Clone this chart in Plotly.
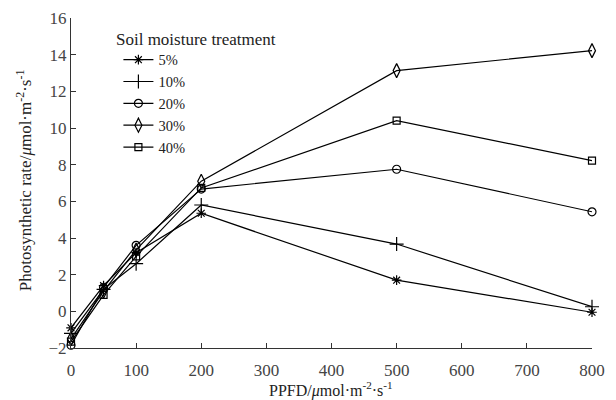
import plotly.graph_objects as go

ppfd = [0, 50, 100, 200, 500, 800]
treatments = ["5%", "10%", "20%", "30%", "40%"]
rate_5 = [-0.9, 1.4, 3.2, 5.35, 1.7, -0.05]
rate_10 = [-1.2, 1.2, 2.6, 5.8, 3.67, 0.25]
rate_20 = [-1.85, 1.3, 3.6, 6.67, 7.75, 5.43]
rate_30 = [-1.5, 1.1, 3.35, 7.1, 13.13, 14.22]
rate_40 = [-1.65, 0.9, 3.0, 6.73, 10.4, 8.22]
series = [rate_5, rate_10, rate_20, rate_30, rate_40]
symbols = ["asterisk-open", "cross-thin-open", "circle-open", "diamond-tall-open", "square-open"]
sizes = [8, 10, 8, 10, 7]

FONT = "Liberation Serif"
x_title = "PPFD/<i>μ</i>mol·m<sup>-2</sup>·s<sup>-1</sup>"
y_title = "Photosynthetic rate/<i>μ</i>mol·m<sup>-2</sup>·s<sup>-1</sup>"
legend_title = "Soil moisture treatment"

fig = go.Figure()
for name, ys, sym, sz in zip(treatments, series, symbols, sizes):
    fig.add_trace(go.Scatter(
        x=ppfd, y=ys, name=name, mode="lines+markers",
        line=dict(color="black", width=1.2),
        marker=dict(symbol=sym, size=sz, color="black",
                    line=dict(color="black", width=1.2)),
        cliponaxis=False,
    ))

tf = dict(family=FONT, size=17, color="#222")
fig.update_layout(
    width=616, height=400,
    margin=dict(l=71, r=24, t=18, b=52),
    paper_bgcolor="white", plot_bgcolor="white",
    font=tf,
    showlegend=True,
    legend=dict(x=0.091, y=0.922, xanchor="left", yanchor="top",
                bgcolor="rgba(0,0,0,0)", borderwidth=0,
                font=dict(family=FONT, size=14.5, color="#222"),
                tracegroupgap=0, itemwidth=30),
    annotations=[
        dict(text=legend_title, x=0.083, y=0.927, xref="paper", yref="paper",
             xanchor="left", yanchor="bottom", yshift=-9, showarrow=False, font=tf),
        dict(text=x_title, x=0.499, y=-0.126, xref="paper", yref="paper",
             xanchor="center", yanchor="middle", showarrow=False,
             font=dict(family=FONT, size=16, color="#222")),
        dict(text=y_title, x=-0.09, y=0.509, xref="paper", yref="paper",
             xanchor="center", yanchor="middle", textangle=-90, showarrow=False, font=tf),
    ],
)
fig.update_xaxes(
    range=[0, 800], tickvals=[0, 100, 200, 300, 400, 500, 600, 700, 800],
    ticks="inside", ticklen=5, tickcolor="#333", showline=True, linecolor="#333",
    linewidth=1, showgrid=False, zeroline=False, ticklabelstandoff=7, automargin=False,
    tickfont=dict(family=FONT, size=17, color="#444"),
)
fig.update_yaxes(
    range=[-2, 16], tickvals=[-2, 0, 2, 4, 6, 8, 10, 12, 14, 16],
    ticks="inside", ticklen=5, tickcolor="#333", showline=True, linecolor="#333",
    linewidth=1, showgrid=False, zeroline=False, automargin=False,
    tickfont=dict(family=FONT, size=17, color="#444"),
)
fig.write_html("out.html")
